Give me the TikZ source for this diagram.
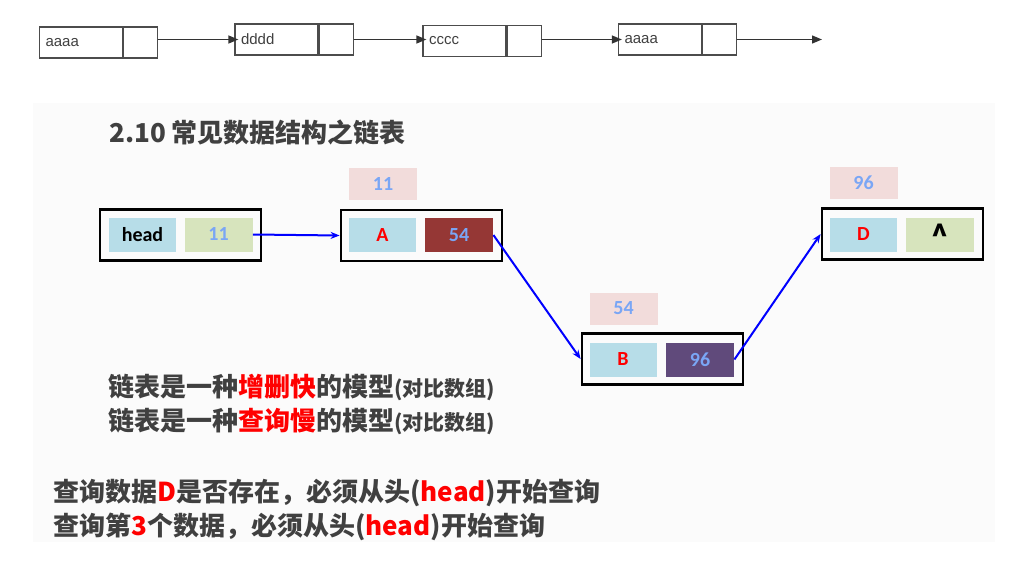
\documentclass[tikz,border=0pt]{standalone}
\usepackage{fontspec}
\setmainfont{Carlito}
\newfontfamily\cjk{Noto Sans CJK SC}
\newfontfamily\topfont{Liberation Sans}
\usetikzlibrary{arrows.meta}
\usetikzlibrary{positioning}
\definecolor{keyblue}{HTML}{B7DDE8}
\definecolor{ptrgreen}{HTML}{D7E4BD}
\definecolor{ptrred}{HTML}{953735}
\definecolor{ptrpurple}{HTML}{604A7B}
\definecolor{addrpink}{HTML}{F2DCDB}
\definecolor{numblue}{HTML}{7AA6F5}
\definecolor{textgrey}{HTML}{404040}
\definecolor{pagegrey}{HTML}{FBFBFB}

\begin{document}
\begin{tikzpicture}[
    x=1pt, y=-1pt,
    thick,
    font=\bfseries\fontsize{20}{24}\selectfont
]
\tikzset{
    tcell/.style = {draw=black!70, line width=1.3pt, minimum height=31pt, inner sep=0pt},
    tdata/.style = {tcell, text width=71pt, inner xsep=6pt, align=left, text=black!75,
                    font=\topfont\fontsize{15}{18}\selectfont},
    tptr/.style = {tcell, minimum width=34pt},
    tedge/.style = {-{Triangle[length=10pt,width=8pt]}, line width=1.3pt, black!80},
    listbox/.style = {draw=black, line width=2.8pt, minimum width=161pt, minimum height=51pt},
    keycell/.style = {fill=keyblue, minimum width=67pt, minimum height=34pt, inner sep=0pt},
    ptrcell/.style = {minimum width=68pt, minimum height=34pt, inner sep=0pt, text=numblue},
    addrbox/.style = {fill=addrpink, minimum width=68pt, minimum height=32pt, inner sep=0pt, text=numblue},
    edgeb/.style = {-{Stealth[length=9pt,width=7pt]}, line width=2pt, blue},
    heading/.style = {anchor=west, inner sep=0pt, text=textgrey, font=\cjk\bfseries\fontsize{26}{30}\selectfont},
    textline/.style = {anchor=west, inner sep=0pt, text=textgrey, font=\cjk\bfseries\fontsize{26}{30}\selectfont}
}
\useasboundingbox (0,0) rectangle (1009,562);
\fill[white] (0,0) rectangle (1009,562);
\fill[pagegrey] (33,103) rectangle (995,542);

\node[tdata] at (81,42.5) (t1) {aaaa};
\node[tptr, right=0pt of t1] (t1p) {};
\node[tdata] at (276.5,39.5) (t2) {dddd};
\node[tptr, right=0pt of t2] (t2p) {};
\node[tdata] at (464.5,41) (t3) {cccc};
\node[tptr, right=0pt of t3] (t3p) {};
\node[tdata] at (660,39.5) (t4) {aaaa};
\node[tptr, right=0pt of t4] (t4p) {};
\coordinate (tend) at (822,39.5);
\draw[tedge] (t1p.east |- t2.west) -- ([xshift=4pt]t2.west);
\draw[tedge] (t2p.east) -- ([xshift=4pt]t3.west |- t2p.east);
\draw[tedge] (t3p.east |- t4.west) -- ([xshift=4pt]t4.west);
\draw[tedge] (t4p.east) -- (tend);

\node[heading] at (109,132) (title) {2.10 常见数据结构之链表};

\node[listbox] at (180.5,235) (h) {};
\node[keycell] at (142.5,234.5) (hk) {head};
\node[ptrcell, fill=ptrgreen] at (218.5,234.5) (hp) {11};

\node[addrbox] at (383,184) (aa) {11};
\node[listbox] at (421.5,235.5) (a) {};
\node[keycell, text=red] at (382.5,235) (ak) {A};
\node[ptrcell, fill=ptrred] at (459,235) (ap) {54};

\node[addrbox] at (623.5,308.5) (ba) {54};
\node[listbox] at (662.5,359) (b) {};
\node[keycell, text=red] at (623,359.5) (bk) {B};
\node[ptrcell, fill=ptrpurple] at (700,359.5) (bp) {96};

\node[addrbox] at (863.5,183) (da) {96};
\node[listbox] at (902.5,234) (d) {};
\node[keycell, text=red] at (863.5,234.5) (dk) {D};
\node[ptrcell, fill=ptrgreen, text=black, font=\cjk\bfseries\fontsize{28}{30}\selectfont] at (940,234.5) (dp) {\^{}};

\draw[edgeb] (hp.east) -- (a.west);
\draw[edgeb] (ap.east) -- (b.west);
\draw[edgeb] (bp.east) -- (d.west);

\node[textline] at (108,387) (l1) {链表是一种{\color{red}增删快}的模型{\fontsize{21}{24}\selectfont(对比数组)}};
\node[textline] at (108,421) (l2) {链表是一种{\color{red}查询慢}的模型{\fontsize{21}{24}\selectfont(对比数组)}};
\node[textline] at (53,493) (l3) {查询数据{\color{red}D}是否存在，必须从头({\color{red}head})开始查询};
\node[textline] at (53,527) (l4) {查询第{\color{red}3}个数据，必须从头({\color{red}head})开始查询};
\end{tikzpicture}
\end{document}
